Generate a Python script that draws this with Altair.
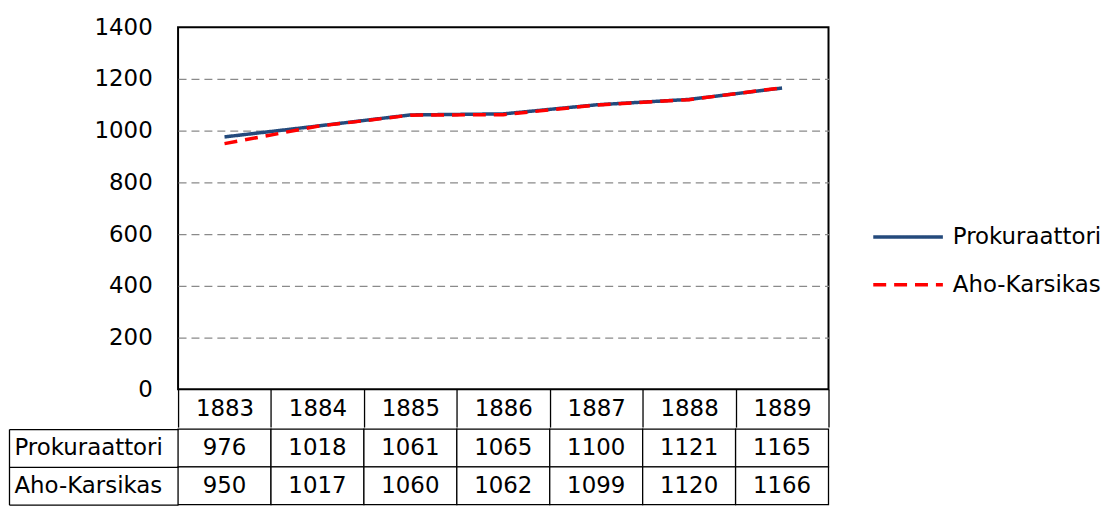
import altair as alt
import pandas as pd

# ---- data ----
years = [1883, 1884, 1885, 1886, 1887, 1888, 1889]
series = ["Prokuraattori", "Aho-Karsikas"]
prokuraattori = [976, 1018, 1061, 1065, 1100, 1121, 1165]
aho_karsikas = [950, 1017, 1060, 1062, 1099, 1120, 1166]
y_ticks = [0, 200, 400, 600, 800, 1000, 1200, 1400]

# ---- styles ----
colors = ["#244A7C", "#FF0000"]
dashes = [[1, 0], [13, 8]]
FONT = "DejaVu Sans"
FS = 23

recs = []
for name, vals in zip(series, [prokuraattori, aho_karsikas]):
    for yr, v in zip(years, vals):
        recs.append({"year": yr, "series": name, "value": v, "label": str(v)})
df = pd.DataFrame(recs)
labels_df = pd.DataFrame({"series": series})

legend = alt.Legend(
    title=None, orient="none", legendX=697, legendY=197,
    symbolType="stroke", symbolSize=4900, symbolStrokeWidth=3.5,
    clipHeight=28, rowPadding=20, labelFontSize=FS, labelOffset=8,
    labelColor="black", labelFont=FONT,
)

year_scale = alt.Scale(type="band", domain=years, paddingInner=0, paddingOuter=0)

line = alt.Chart(df).mark_line(strokeWidth=3.5).encode(
    x=alt.X("year:O", bandPosition=0.5, scale=year_scale,
            axis=alt.Axis(title=None, labelAngle=0, domain=False,
                          tickBand="extent", tickSize=38, tickColor="black",
                          tickWidth=1.3, labelFontSize=FS, labelColor="black",
                          labelBaseline="middle", labelPadding=-19, labelFont=FONT)),
    y=alt.Y("value:Q", scale=alt.Scale(domain=[0, 1400], nice=False),
            axis=alt.Axis(title=None, values=y_ticks, format="d", grid=True, gridDash=[8, 5],
                          gridColor={"condition": {"test": "datum.value === 0 || datum.value === 1400",
                                                   "value": "transparent"},
                                     "value": "#8a8a8a"},
                          gridWidth=1.3, domain=False, ticks=False, labelPadding=26,
                          labelFontSize=FS, labelColor="black", labelFont=FONT)),
    color=alt.Color("series:N", scale=alt.Scale(domain=series, range=colors), legend=legend),
    strokeDash=alt.StrokeDash("series:N", scale=alt.Scale(domain=series, range=dashes), legend=legend),
).properties(width=654, height=364,
             view=alt.ViewBackground(stroke="black", strokeWidth=2))

# ---- data table under the plot ----
row_axis = alt.Axis(title=None, tickBand="extent", tickSize=170, tickColor="black",
                    tickWidth=1.3, domain=False, labelAlign="left", labelBaseline="middle",
                    labelPadding=-5, labelFontSize=FS, labelColor="black", labelFont=FONT,
                    labelLimit=300)
row_scale = alt.Scale(domain=series, paddingInner=0, paddingOuter=0)
val_scale = alt.Scale(type="band", domain=years, paddingInner=0, paddingOuter=0)

val_rect = alt.Chart(df).mark_rect(fill="white", stroke="black", strokeWidth=1.3).encode(
    x=alt.X("year:O", scale=val_scale, axis=None),
    y=alt.Y("series:N", scale=row_scale, axis=row_axis),
)
val_text = alt.Chart(df).mark_text(align="center", baseline="middle",
                                   fontSize=FS, color="black", font=FONT).encode(
    x=alt.X("year:O", scale=val_scale, axis=None),
    y=alt.Y("series:N", scale=row_scale, axis=row_axis),
    text="label:N",
)
edge = alt.Chart(labels_df).mark_tick(opacity=0).encode(
    y=alt.Y("series:N", scale=alt.Scale(domain=series, paddingInner=0, paddingOuter=0),
            axis=alt.Axis(title=None, orient="left", labels=False, ticks=False,
                          domain=True, domainColor="black", domainWidth=1.3, offset=170)),
)
table = alt.layer(alt.layer(val_rect, val_text), edge).resolve_scale(
    y="independent"
).properties(width=654, height=76)

chart = alt.vconcat(line, table, spacing=-12).resolve_scale(
    color="independent", strokeDash="independent"
).properties(
    padding={"top": 6, "left": 0, "right": 0, "bottom": 0}
).configure(font=FONT).configure_view(strokeWidth=0)

chart.save("out.html", embed_options={"renderer": "svg", "actions": False})
